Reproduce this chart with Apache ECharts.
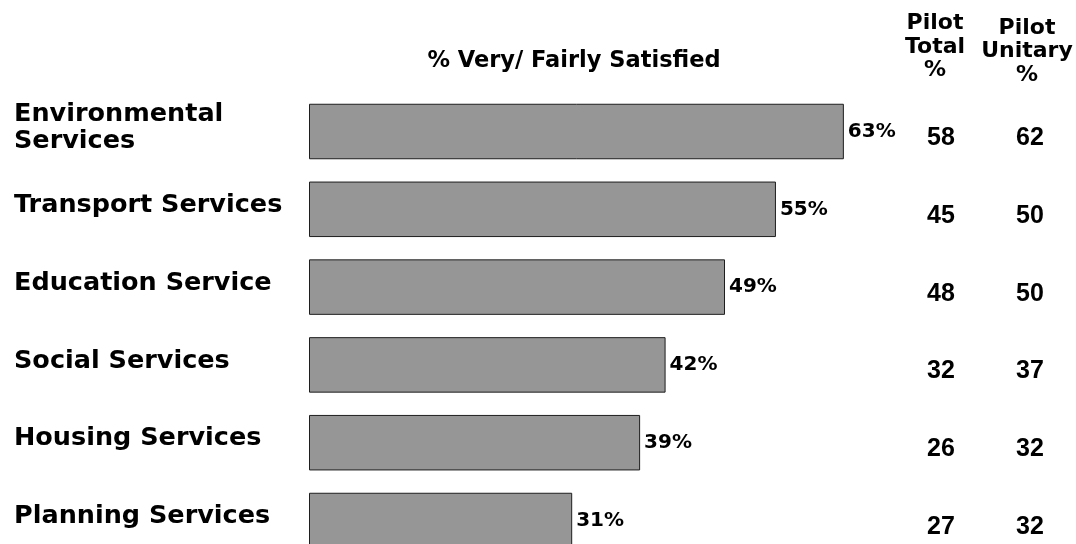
<!DOCTYPE html>
<html>
<head>
<meta charset="utf-8">
<script src="https://cdn.jsdelivr.net/npm/echarts@6/dist/echarts.min.js"></script>
<style>
  html, body { margin: 0; padding: 0; background: #ffffff; overflow: hidden; }
  /* canvas is taller than the window so the last row runs off the bottom edge */
  #chart { width: 1076px; height: 570px; }
</style>
</head>
<body>
<div id="chart"></div>
<script>
// Service areas, top to bottom
const categories = [
  'Environmental\nServices',
  'Transport Services',
  'Education Service',
  'Social Services',
  'Housing Services',
  'Planning Services'
];
// % very / fairly satisfied
const satisfied = [63, 55, 49, 42, 39, 31];
// Comparison columns
const pilotTotal = [58, 45, 48, 32, 26, 27];
const pilotUnitary = [62, 50, 50, 37, 32, 32];

const FONT_WIDE = '"DejaVu Sans", sans-serif';
const FONT_NUM = '"Liberation Sans", Arial, sans-serif';

const chart = echarts.init(document.getElementById('chart'), null, { renderer: 'canvas' });

// category names sit a little above the bar centre: a thin spacer line below lifts them
function categoryLabel(value) {
  return value.split('\n').map(function (line) { return '{n|' + line + '}'; }).join('\n') + '\n{s| }';
}

chart.setOption({
  animation: false,
  backgroundColor: '#ffffff',
  grid: [
    { left: 309, width: 764.1, top: 92.6, height: 466.8, containLabel: false },
    { left: 941, width: 89, top: 99.2, height: 466.8, containLabel: false }
  ],
  xAxis: [
    { gridIndex: 0, type: 'value', min: 0, max: 90, show: false },
    { gridIndex: 1, type: 'value', min: 0, max: 1, show: false }
  ],
  yAxis: [
    {
      gridIndex: 0,
      type: 'category',
      inverse: true,
      data: categories,
      axisLine: { show: false },
      axisTick: { show: false },
      splitLine: { show: false },
      axisLabel: {
        align: 'left',
        margin: 295,
        formatter: categoryLabel,
        rich: {
          n: {
            color: '#000000',
            fontFamily: FONT_WIDE,
            fontWeight: 'bold',
            fontSize: 25.5,
            lineHeight: 27
          },
          s: {
            fontSize: 1,
            lineHeight: 8
          }
        }
      }
    },
    {
      gridIndex: 1,
      type: 'category',
      inverse: true,
      position: 'left',
      data: pilotTotal.map(String),
      axisLine: { show: false },
      axisTick: { show: false },
      splitLine: { show: false },
      axisLabel: {
        align: 'center',
        margin: 0,
        color: '#000000',
        fontFamily: FONT_NUM,
        fontWeight: 'bold',
        fontSize: 25
      }
    },
    {
      gridIndex: 1,
      type: 'category',
      inverse: true,
      position: 'right',
      data: pilotUnitary.map(String),
      axisLine: { show: false },
      axisTick: { show: false },
      splitLine: { show: false },
      axisLabel: {
        align: 'center',
        margin: 0,
        color: '#000000',
        fontFamily: FONT_NUM,
        fontWeight: 'bold',
        fontSize: 25
      }
    }
  ],
  series: [
    {
      type: 'bar',
      xAxisIndex: 0,
      yAxisIndex: 0,
      data: satisfied,
      barWidth: 55.5,
      itemStyle: {
        color: '#969696',
        borderColor: '#1e1e1e',
        borderWidth: 1
      },
      label: {
        show: true,
        position: 'right',
        distance: 4,
        formatter: '{c}%',
        color: '#000000',
        fontFamily: FONT_WIDE,
        fontWeight: 'bold',
        fontSize: 20
      }
    }
  ],
  graphic: [
    {
      type: 'text',
      x: 574,
      y: 61,
      style: {
        text: '% Very/ Fairly Satisfied',
        fill: '#000000',
        font: 'bold 22.5px ' + FONT_WIDE,
        textAlign: 'center',
        textVerticalAlign: 'middle'
      }
    },
    {
      type: 'text',
      x: 935,
      y: 12,
      style: {
        text: 'Pilot\nTotal\n%',
        fill: '#000000',
        font: 'bold 22px ' + FONT_WIDE,
        lineHeight: 23.5,
        textAlign: 'center',
        textVerticalAlign: 'top'
      }
    },
    {
      type: 'text',
      x: 1027,
      y: 16.5,
      style: {
        text: 'Pilot\nUnitary\n%',
        fill: '#000000',
        font: 'bold 22px ' + FONT_WIDE,
        lineHeight: 23.5,
        textAlign: 'center',
        textVerticalAlign: 'top'
      }
    }
  ]
});
</script>
</body>
</html>
